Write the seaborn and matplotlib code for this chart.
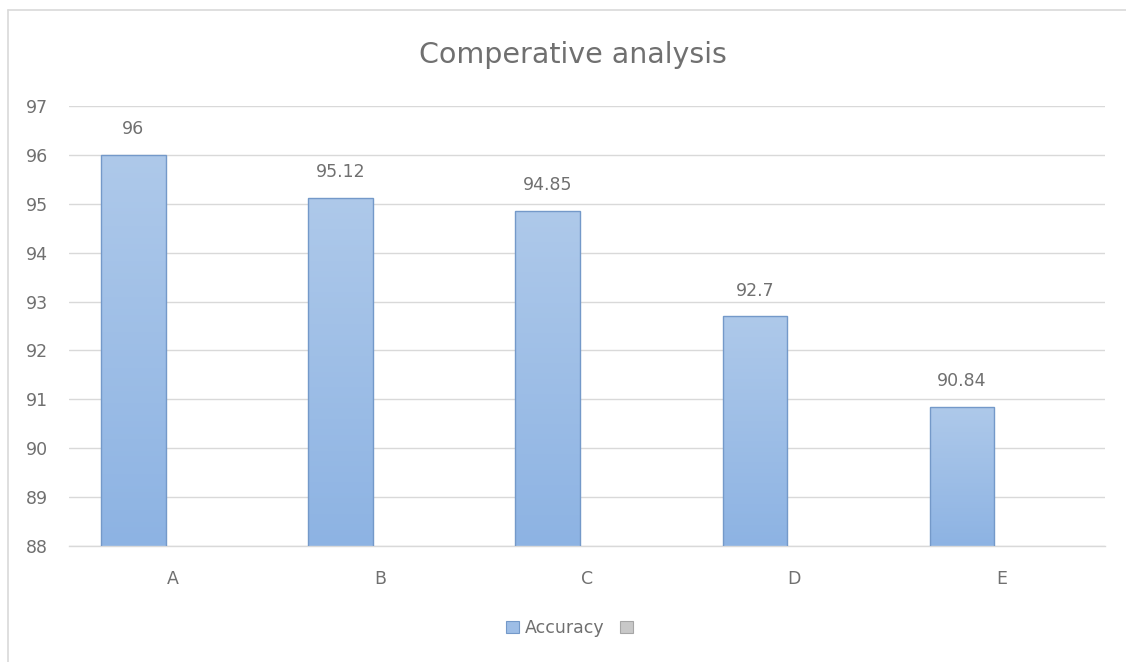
import numpy as np
import pandas as pd
import matplotlib
matplotlib.use("Agg")
import matplotlib.pyplot as plt
from matplotlib.colors import LinearSegmentedColormap
from matplotlib.patches import Patch
from matplotlib.lines import Line2D
import seaborn as sns

# Chart data
models = ["A", "B", "C", "D", "E"]
accuracy = [96, 95.12, 94.85, 92.7, 90.84]
series_names = ["Accuracy", "Series2"]
y_ticks = [88, 89, 90, 91, 92, 93, 94, 95, 96, 97]

df = pd.DataFrame({"Model": models, "Value": accuracy, "Series": series_names[0]})

sns.set_theme(style="white")
plt.rcParams["font.family"] = ["DejaVu Sans"]

TEXT = "#707070"
GRID = "#d9d9d9"
BAR_EDGE = "#7499c9"
BAR_TOP = "#aec9ea"
BAR_BOTTOM = "#8db3e3"

fig = plt.figure(figsize=(11.26, 6.62), dpi=100)
ax = fig.add_axes([69 / 1126, 1 - 546 / 662, (1105 - 69) / 1126, (546 - 106) / 662])

sns.barplot(
    data=df, x="Model", y="Value", hue="Series",
    hue_order=series_names, order=models,
    palette={series_names[0]: BAR_TOP, series_names[1]: "#bfbfbf"},
    width=0.76, gap=0.18, dodge=True, legend=False,
    edgecolor=BAR_EDGE, linewidth=1.0, ax=ax, errorbar=None,
)

ymin, ymax = y_ticks[0], y_ticks[-1]
ax.set_ylim(ymin, ymax)
ax.set_xlim(-0.5, len(models) - 0.5)
ax.set_yticks(y_ticks)
ax.yaxis.grid(True, color=GRID, linewidth=1.0)
ax.set_axisbelow(True)
for name, s in ax.spines.items():
    s.set_visible(name == "bottom")
ax.spines["bottom"].set_color(GRID)
ax.spines["bottom"].set_linewidth(1.0)
ax.set_xlabel("")
ax.set_ylabel("")
ax.tick_params(axis="y", length=0, pad=15, labelsize=12.5, labelcolor=TEXT)
ax.tick_params(axis="x", length=0, pad=17, labelsize=12.5, labelcolor=TEXT)

# vertical gradient fill inside each bar (visible part only)
cmap = LinearSegmentedColormap.from_list("bar", [BAR_BOTTOM, BAR_TOP])
grad = np.linspace(0, 1, 256).reshape(-1, 1)
bars = [p for p in ax.patches if p.get_height() > 0]
for bar, val in zip(bars, accuracy):
    x0 = bar.get_x()
    w = bar.get_width()
    top = bar.get_y() + bar.get_height()
    im = ax.imshow(grad, cmap=cmap, origin="lower", aspect="auto",
                   extent=(x0, x0 + w, ymin, top), zorder=2,
                   interpolation="bicubic")
    im.set_clip_path(bar)
    bar.set_facecolor("none")
    bar.set_zorder(3)
    ax.annotate(f"{val:g}", xy=(x0 + w / 2, top), xytext=(0, 12),
                textcoords="offset points", ha="center", va="bottom",
                fontsize=12.5, color=TEXT)
ax.set_xlim(-0.5, len(models) - 0.5)
ax.set_ylim(ymin, ymax)

fig.text(573 / 1126, 1 - 55 / 662, "Comperative analysis", ha="center", va="center",
         fontsize=20.5, color=TEXT)

handles = [Patch(facecolor="#9dbde6", edgecolor=BAR_EDGE, linewidth=0.8),
           Patch(facecolor="#c8c8c8", edgecolor="#a6a6a6", linewidth=0.8)]
fig.legend(handles, ["Accuracy", ""], loc="center",
           bbox_to_anchor=(572 / 1126, 1 - 628 / 662), ncol=2, frameon=False,
           fontsize=12.5, labelcolor=TEXT, handlelength=0.75, handleheight=0.75,
           handletextpad=0.3, columnspacing=0.9)

# chart area border
fig.add_artist(Line2D([8 / 1126, 8 / 1126], [0, 1 - 10 / 662], transform=fig.transFigure,
                      color=GRID, linewidth=1.2))
fig.add_artist(Line2D([8 / 1126, 1], [1 - 10 / 662, 1 - 10 / 662], transform=fig.transFigure,
                      color=GRID, linewidth=1.2))

fig.savefig("out.png", dpi=100)
